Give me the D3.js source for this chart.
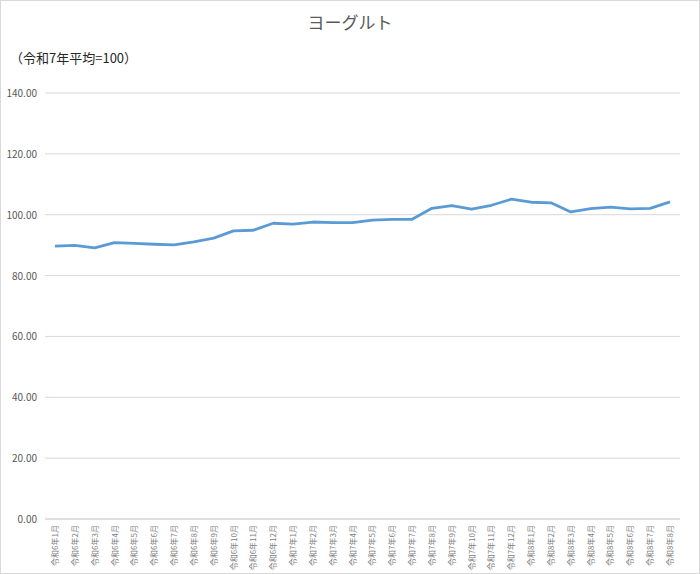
<!DOCTYPE html>
<html><head><meta charset="utf-8">
<script src="https://cdn.jsdelivr.net/npm/d3@7"></script>
<style>body{margin:0;background:#fff}svg{display:block;font-family:"Noto Sans CJK JP","Noto Sans",sans-serif}</style>
</head><body><div class="chart"></div>
<script>
const months = [];
[[6,12],[7,12],[8,8]].forEach(([y,n]) => { for (let m=1;m<=n;m++) months.push(`令和${y}年${m}月`); });
const values = [89.7,89.9,89.1,90.8,90.6,90.3,90.1,91.1,92.3,94.7,94.9,97.2,96.9,97.6,97.4,97.4,98.2,98.5,98.5,102.1,103.0,101.8,103.1,105.1,104.1,103.9,100.9,102.0,102.5,101.9,102.1,104.2];
const yTicks = [0,20,40,60,80,100,120,140];

const w=700, h=574;
const svg = d3.select(".chart").append("svg").attr("width",w).attr("height",h);
svg.append("rect").attr("x",0.5).attr("y",0.5).attr("width",w-1).attr("height",h-1)
    .attr("fill","#fff").attr("stroke","#d9d9d9");

const x = d3.scalePoint().domain(months).range([55,670]);
const y = d3.scaleLinear().domain([0,140]).range([519,93]);

svg.append("text").attr("x",350).attr("y",29).attr("text-anchor","middle")
    .attr("font-size",17).attr("fill","#595959").text("ヨーグルト");
svg.append("text").attr("x",10).attr("y",63).attr("font-size",13).attr("fill","#262626").text("（令和7年平均=100）");

svg.append("g").selectAll("line").data(yTicks).join("line")
    .attr("x1",45).attr("x2",680).attr("y1",d=>y(d)).attr("y2",d=>y(d))
    .attr("stroke",d=>d===0?"#bfbfbf":"#d9d9d9");
svg.append("g").selectAll("text").data(yTicks).join("text")
    .attr("x",37).attr("y",d=>y(d)+4).attr("text-anchor","end")
    .attr("font-size",10).attr("fill","#595959").text(d=>d.toFixed(2));

svg.append("g").selectAll("text").data(months).join("text")
    .attr("transform",d=>`translate(${x(d)+3},525) rotate(-90)`)
    .attr("text-anchor","end").attr("font-size",8).attr("fill","#7f7f7f").text(d=>d);

svg.append("path").datum(values)
    .attr("fill","none").attr("stroke","#5b9bd5").attr("stroke-width",2.8).attr("stroke-linejoin","round")
    .attr("d",d3.line().x((d,i)=>x(months[i])).y(d=>y(d)));
</script></body></html>
